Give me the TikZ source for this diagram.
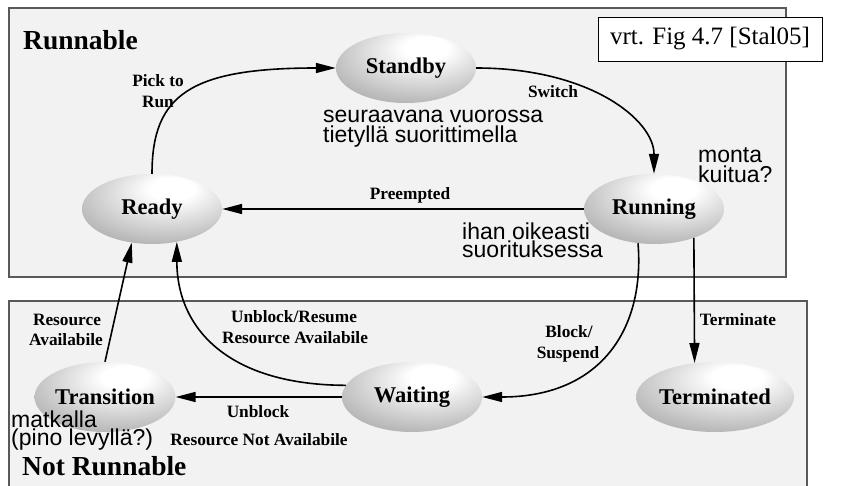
\documentclass[tikz,border=0pt]{standalone}
\usepackage{fontspec}
\setmainfont{Liberation Serif}
\newfontfamily\annfont{Liberation Sans}
\usetikzlibrary{shapes.geometric,arrows.meta}

% soft ball-like shading for the state ellipses, highlight above right of centre
\pgfdeclareradialshading{stateball}{\pgfpoint{8bp}{16bp}}{%
  color(0bp)=(white); color(8bp)=(white); color(50bp)=(black!46); color(75bp)=(black!52)}

\tikzset{
  region/.style={draw=black!65, line width=1.2pt, fill=black!5},
  state/.style={ellipse, shade, shading=stateball, minimum width=140pt, minimum height=70pt,
    inner sep=0pt, font=\fontsize{22.5}{24}\selectfont\bfseries},
  conn/.style={line width=1.6pt, -{Triangle[length=20pt,width=10pt]}},
  lbl/.style={anchor=base, inner sep=0pt, font=\fontsize{17.3}{19}\selectfont\bfseries},
  note/.style={anchor=base west, inner sep=0pt, font=\annfont\fontsize{23}{20}\selectfont},
  title/.style={anchor=base west, inner sep=0pt, font=\fontsize{27.5}{29}\selectfont\bfseries},
}

\begin{document}
\begin{tikzpicture}[x=1pt,y=-1pt]
\useasboundingbox (0,0) rectangle (845,486);

% the two regions
\draw[region] (9,8) rectangle (786,277);
\draw[region] (9,301) rectangle (807,500);
\node[title] (runnable) at (23,50) {Runnable};
\node[title] (notrunnable) at (22,475) {Not Runnable};

% reference box
\node[draw=black, line width=0.8pt, fill=white, minimum width=224pt, minimum height=44pt,
      inner sep=0pt, font=\fontsize{25}{27}\selectfont] (ref) at (710,39) {vrt. Fig 4.7 [Stal05]};

% states
\node[state] (s) at (406,68) {Standby};
\node[state] (r) at (152,209) {Ready};
\node[state] (u) at (654,209) {Running};
\node[state] (t) at (105,397) {Transition};
\node[state] (w) at (412,397) {Waiting};
\node[state, minimum width=143pt] (x) at (715,397) {Terminated};

% transitions
\draw[conn] (r.north) .. controls (152,95) and (190,68) .. (s.west);
\draw[conn] (s.east) .. controls (590,68) and (654,120) .. (u.north);
\draw[conn] (u.west) -- (r.east);
\draw[conn] (u.245) .. controls (645,330) and (600,397) .. (w.east);
\draw[conn] (u.324) -- (x.121);
\draw[conn] (w.170) .. controls (230,385) and (177,330) .. (r.307);
\draw[conn] (t.north) -- (r.239);
\draw[conn] (w.west) -- (t.east);

% transition labels
\node[lbl] (pick1) at (158,87) {Pick to};
\node[lbl] (pick2) at (158,108) {Run};
\node[lbl] (switch) at (553,98) {Switch};
\node[lbl] (preempt) at (410,200) {Preempted};
\node[lbl] (term) at (738,325) {Terminate};
\node[lbl] (block1) at (569,337) {Block/};
\node[lbl] (block2) at (568,358) {Suspend};
\node[lbl] (unres1) at (294,322) {Unblock/Resume};
\node[lbl] (unres2) at (295,343) {Resource Availabile};
\node[lbl] (ravail1) at (67,325) {Resource};
\node[lbl] (ravail2) at (66,345) {Availabile};
\node[lbl] (unbl1) at (258,417) {Unblock};
\node[lbl] (unbl2) at (259,445) {Resource Not Availabile};

% notes
\node[note] (n1a) at (323,123) {seuraavana vuorossa};
\node[note] (n1b) at (323,143) {tietyllä suorittimella};
\node[note] (n2a) at (698,163) {monta};
\node[note] (n2b) at (698,183) {kuitua?};
\node[note] (n3a) at (462,240) {ihan oikeasti};
\node[note] (n3b) at (462,258) {suorituksessa};
\node[note] (n4a) at (11,427) {matkalla};
\node[note] (n4b) at (11,445) {(pino levyllä?)};
\end{tikzpicture}
\end{document}
